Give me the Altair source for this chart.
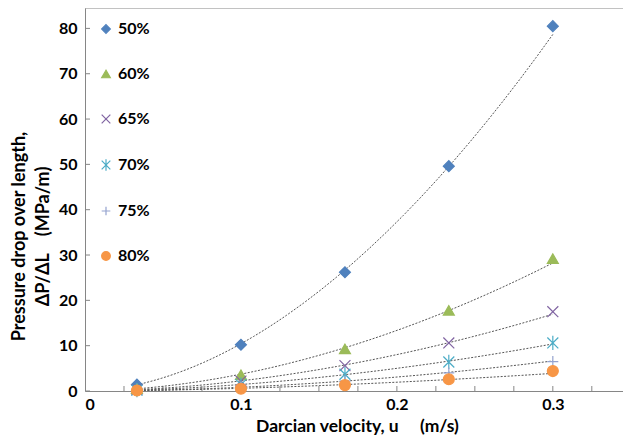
import altair as alt
import pandas as pd

# ---- data ----
velocity = [0.0333, 0.1, 0.1667, 0.2333, 0.3]
series_names = ["50%", "60%", "65%", "70%", "75%", "80%"]
p50 = [1.4, 10.2, 26.2, 49.6, 80.5]
p60 = [0.5, 3.6, 9.3, 17.8, 29.2]
p65 = [0.3, 2.2, 5.6, 10.6, 17.5]
p70 = [0.2, 1.4, 3.7, 6.4, 10.6]
p75 = [0.1, 0.9, 2.2, 4.0, 6.5]
p80 = [0.1, 0.5, 1.3, 2.6, 4.4]

x_ticks = [0.025 * i for i in range(1, 14)]
y_ticks = [10 * i for i in range(0, 9)]

colors_stroke = ["#4F81BD", "#9BBB59", "#8064A2", "#4BACC6", "#95A3CF", "#F79646"]
colors_fill = ["#4F81BD", "#9BBB59", "transparent", "transparent", "transparent", "#F79646"]
X_PATH = "M-1,-1L1,1M1,-1L-1,1"
AST_PATH = "M-1,-1L1,1M1,-1L-1,1M0,-1.3L0,1.3"
PLUS_PATH = "M-1,0L1,0M0,-1L0,1"
shapes = ["diamond", "triangle-up", X_PATH, AST_PATH, PLUS_PATH, "circle"]

rows = []
for name, vals in zip(series_names, [p50, p60, p65, p70, p75, p80]):
    for u, v in zip(velocity, vals):
        rows.append({"u": u, "dp": v, "series": name})
df = pd.DataFrame(rows)

W, H = 538, 383
FONT = "Lato"
NB = "\u00a0"

xscale = alt.Scale(domain=[0, 0.345], nice=False, zero=False)
yscale = alt.Scale(domain=[0, 84.5], nice=False)

legend = alt.Legend(
    title=None, orient="none", legendX=13, legendY=13,
    labelFont=FONT, labelFontSize=16, labelFontWeight="bold", labelColor="#000",
    symbolSize=75, symbolStrokeWidth=1.2, rowPadding=29, labelOffset=4,
)

base = alt.Chart(df)

trend = base.mark_line(color="#555555", strokeWidth=1, strokeDash=[2, 1.5]).transform_regression(
    "u", "dp", method="pow", groupby=["series"]
).encode(
    x=alt.X("u:Q", scale=xscale),
    y=alt.Y("dp:Q", scale=yscale),
    detail="series:N",
)

points = base.mark_point(strokeWidth=1.2, opacity=1).encode(
    x=alt.X("u:Q", scale=xscale, title="Darcian velocity, u" + NB * 5 + "(m/s)",
            axis=alt.Axis(values=[0, 0.1, 0.2, 0.3], labelExpr="datum.value == 0 ? '0' : format(datum.value, '.1f')",
                          tickSize=0, grid=False, domainColor="#868686",
                          labelFont=FONT, labelFontSize=16, labelFontWeight="bold", labelColor="#000",
                          labelPadding=5, titleFont=FONT, titleFontSize=17.5, titleFontWeight="bold",
                          titleColor="#000", titleX=272, titleY=35, titleBaseline="middle")),
    y=alt.Y("dp:Q", scale=yscale, title=["Pressure drop over length,", "ΔP/ΔL" + NB * 4 + "(MPa/m)"],
            axis=alt.Axis(values=y_ticks, tickSize=0, grid=False, domainColor="#868686",
                          labelFont=FONT, labelFontSize=16, labelFontWeight="bold", labelColor="#000",
                          labelPadding=8, titleFont=FONT, titleFontSize=18, titleFontWeight="bold",
                          titleColor="#000", titleLineHeight=24, titleX=-57, titleY=228)),
    shape=alt.Shape("series:N", scale=alt.Scale(domain=series_names, range=shapes), legend=legend),
    fill=alt.Fill("series:N", scale=alt.Scale(domain=series_names, range=colors_fill), legend=legend),
    stroke=alt.Stroke("series:N", scale=alt.Scale(domain=series_names, range=colors_stroke), legend=legend),
    size=alt.value(120),
)

xt = alt.Chart(pd.DataFrame({"t": x_ticks})).mark_rule(color="#868686").encode(
    x=alt.X("t:Q", scale=xscale), y=alt.value(H - 5), y2=alt.value(H))
yt = alt.Chart(pd.DataFrame({"t": y_ticks})).mark_rule(color="#868686").encode(
    y=alt.Y("t:Q", scale=yscale), x=alt.value(0), x2=alt.value(5))
top = alt.Chart(pd.DataFrame({"t": [0]})).mark_rule(color="#868686").encode(
    x=alt.value(0), x2=alt.value(W), y=alt.value(0))

chart = alt.layer(top, xt, yt, trend, points).properties(
    width=W, height=H,
    autosize=alt.AutoSizeParams(type="none"),
    padding={"left": 77, "top": 0, "right": 0, "bottom": 44},
).configure_view(stroke=None)

chart.save("out.html", embed_options={"renderer": "svg", "actions": False})
